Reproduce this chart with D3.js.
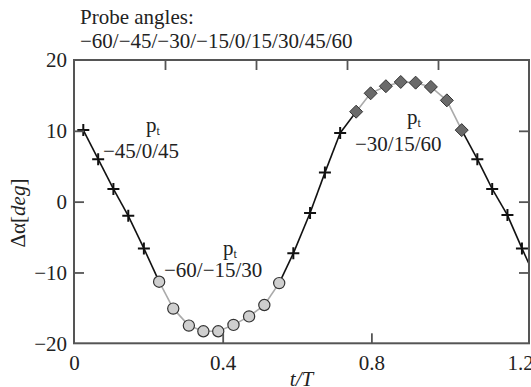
<!DOCTYPE html>
<html>
<head>
<meta charset="utf-8">
<script src="https://cdn.jsdelivr.net/npm/d3@7/dist/d3.min.js"></script>
<style>
  body { margin: 0; background: #fff; }
  svg text { font-family: "Liberation Serif", "Times New Roman", serif; fill: #222; }
</style>
</head>
<body>
<div class="svgContainer"></div>
<script>
// t/T and delta alpha, one pair of arrays per marker group
const crossA_t = [0.025, 0.065, 0.106, 0.146, 0.188];
const crossA_v = [10.1, 6.0, 1.8, -2.0, -6.6];
const circle_t = [0.229, 0.267, 0.309, 0.348, 0.388, 0.429, 0.471, 0.512, 0.552];
const circle_v = [-11.3, -15.1, -17.5, -18.3, -18.3, -17.4, -16.2, -14.6, -11.5];
const crossB_t = [0.590, 0.635, 0.675, 0.716];
const crossB_v = [-7.3, -1.6, 4.1, 9.7];
const diamond_t = [0.759, 0.798, 0.839, 0.879, 0.919, 0.960, 1.003, 1.043];
const diamond_v = [12.7, 15.3, 16.3, 16.9, 16.8, 16.2, 14.3, 10.1];
const crossC_t = [1.085, 1.125, 1.166, 1.205];
const crossC_v = [6.0, 1.8, -1.9, -6.6];
// next point lies past the right frame, only the line towards it shows
const tail_t = [1.246];
const tail_v = [-11.3];

const xTickLabels = [0, 0.4, 0.8, 1.2];
const yTickLabels = [-20, -10, 0, 10, 20];
const xInnerTicks = [0.4, 0.8];
const yInnerTicks = [-10, 0, 10];
const titleLines = ['Probe angles:', '\u221260/\u221245/\u221230/\u221215/0/15/30/45/60'];
const groupLabels = ['\u221245/0/45', '\u221260/\u221215/30', '\u221230/15/60'];

const width = 531;
const height = 387;
const xMax = 1.224;

const svg = d3.select('.svgContainer').append('svg')
  .attr('width', width)
  .attr('height', height);

const scaleX = d3.scaleLinear().domain([0, xMax]).range([74, 529]);
const scaleY = d3.scaleLinear().domain([-20, 20]).range([343.3, 60]);

function group(ts, vs, type) {
  return ts.map((t, i) => ({ t: t, v: vs[i], type: type }));
}

const points = [].concat(
  group(crossA_t, crossA_v, 'cross'),
  group(circle_t, circle_v, 'circle'),
  group(crossB_t, crossB_v, 'cross'),
  group(diamond_t, diamond_v, 'diamond'),
  group(crossC_t, crossC_v, 'cross'),
  group(tail_t, tail_v, 'circle')
);

svg.append('clipPath').attr('id', 'frame')
  .append('rect')
  .attr('x', scaleX(0)).attr('y', scaleY(20))
  .attr('width', scaleX(xMax) - scaleX(0))
  .attr('height', scaleY(-20) - scaleY(20));

const plot = svg.append('g').attr('clip-path', 'url(#frame)');

// segments: black where a cross is involved, light grey between symbols
const line = d3.line().x(d => scaleX(d.t)).y(d => scaleY(d.v));
plot.selectAll('path.seg')
  .data(d3.pairs(points))
  .enter()
  .append('path')
  .attr('class', 'seg')
  .attr('d', d => line(d))
  .attr('fill', 'none')
  .attr('stroke', d => (d[0].type === 'cross' || d[1].type === 'cross') ? '#111' : '#aaa')
  .attr('stroke-width', 1.6);

const markers = plot.selectAll('g.mark')
  .data(points)
  .enter()
  .append('g')
  .attr('class', 'mark')
  .attr('transform', d => 'translate(' + scaleX(d.t) + ',' + scaleY(d.v) + ')');

markers.filter(d => d.type === 'cross')
  .append('path')
  .attr('d', 'M-6,0H6M0,-6V6')
  .attr('stroke', '#111')
  .attr('stroke-width', 2);

markers.filter(d => d.type === 'circle')
  .append('circle')
  .attr('r', 5.6)
  .attr('fill', '#cfcfcf')
  .attr('stroke', '#333')
  .attr('stroke-width', 1.2);

markers.filter(d => d.type === 'diamond')
  .append('path')
  .attr('d', 'M0,-6.5L6.5,0L0,6.5L-6.5,0Z')
  .attr('fill', '#6a6a6a')
  .attr('stroke', '#333')
  .attr('stroke-width', 1);

// inner ticks on all four sides
const tickLen = 10;
const xAxisY = scaleY(-20);
svg.append('g')
  .attr('transform', 'translate(0,' + xAxisY + ')')
  .call(d3.axisBottom(scaleX).tickValues(xInnerTicks).tickSize(-tickLen).tickFormat(''));
svg.append('g')
  .attr('transform', 'translate(0,' + scaleY(20) + ')')
  .call(d3.axisTop(scaleX).tickValues([0.2, 0.4, 0.6, 0.8].map(f => f * xMax)).tickSize(-tickLen).tickFormat(''));
svg.append('g')
  .attr('transform', 'translate(' + scaleX(0) + ',0)')
  .call(d3.axisLeft(scaleY).tickValues(yInnerTicks).tickSize(-tickLen).tickFormat(''));
svg.append('g')
  .attr('transform', 'translate(' + scaleX(xMax) + ',0)')
  .call(d3.axisRight(scaleY).tickValues(yInnerTicks).tickSize(-tickLen).tickFormat(''));

svg.selectAll('.domain').remove();
svg.selectAll('.tick line').attr('stroke', '#555').attr('stroke-width', 1.8);

// tick labels
const xLabels = svg.append('g')
  .attr('transform', 'translate(0,' + xAxisY + ')')
  .call(d3.axisBottom(scaleX).tickValues(xTickLabels).tickSize(0).tickPadding(12).tickFormat(d3.format('')));
const yLabels = svg.append('g')
  .attr('transform', 'translate(' + scaleX(0) + ',0)')
  .call(d3.axisLeft(scaleY).tickValues(yTickLabels).tickSize(0).tickPadding(7)
    .tickFormat(d => d < 0 ? '\u2212' + Math.abs(d) : d));
[xLabels, yLabels].forEach(g => {
  g.select('.domain').remove();
  g.selectAll('text').attr('font-size', 21).attr('fill', '#222')
    .attr('font-family', '"Liberation Serif", "Times New Roman", serif');
});

// frame
svg.append('rect')
  .attr('x', scaleX(0)).attr('y', scaleY(20))
  .attr('width', scaleX(xMax) - scaleX(0))
  .attr('height', scaleY(-20) - scaleY(20))
  .attr('fill', 'none')
  .attr('stroke', '#555')
  .attr('stroke-width', 2);

// titles
svg.append('text')
  .attr('x', (scaleX(0) + scaleX(xMax)) / 2)
  .attr('y', 386)
  .attr('text-anchor', 'middle')
  .attr('font-size', 21)
  .attr('font-style', 'italic')
  .text('t/T');

const yTitle = svg.append('text')
  .attr('transform', 'translate(25,213) rotate(-90)')
  .attr('text-anchor', 'middle')
  .attr('font-size', 21);
yTitle.append('tspan').text('\u0394\u03b1[');
yTitle.append('tspan').attr('font-style', 'italic').text('deg');
yTitle.append('tspan').text(']');

titleLines.forEach((s, i) => {
  svg.append('text')
    .attr('x', 80)
    .attr('y', 24 + i * 23.5)
    .attr('font-size', 21)
    .text(s);
});

// group annotations: p_t on top, angle triple below
const pPos = [[146, 132], [223, 255], [407, 124]];
const lPos = [[103, 158], [164, 277], [355, 151]];
groupLabels.forEach((s, i) => {
  const p = svg.append('text')
    .attr('x', pPos[i][0])
    .attr('y', pPos[i][1])
    .attr('font-size', 21);
  p.append('tspan').text('p');
  p.append('tspan').attr('font-size', 12).attr('dy', 3).text('t');
  svg.append('text')
    .attr('x', lPos[i][0])
    .attr('y', lPos[i][1])
    .attr('font-size', 21)
    .text(s);
});
</script>
</body>
</html>
